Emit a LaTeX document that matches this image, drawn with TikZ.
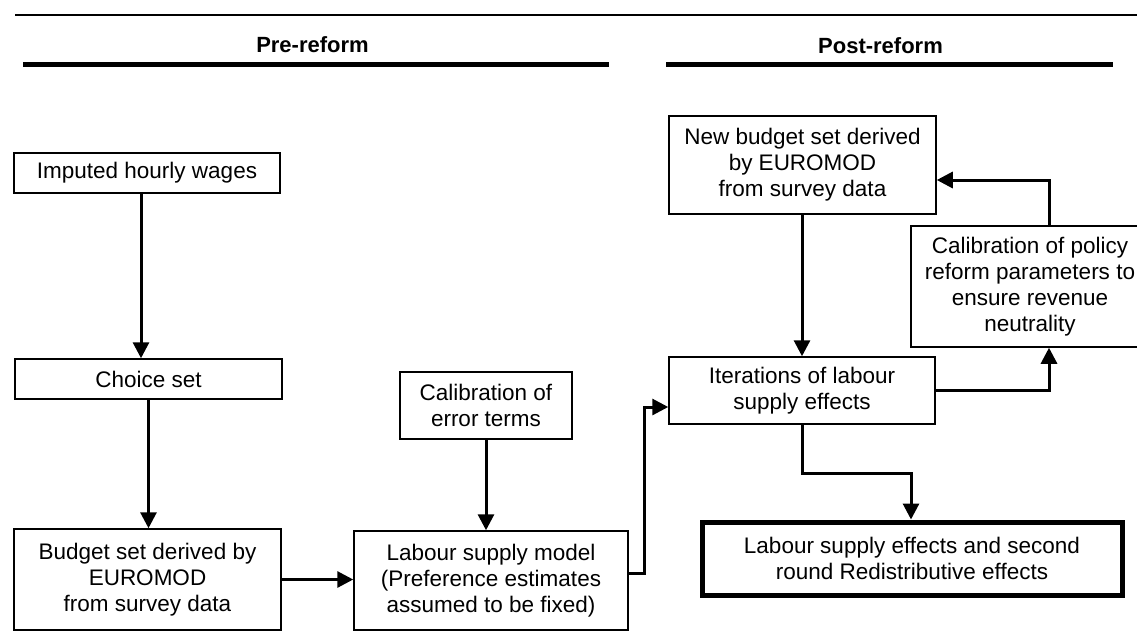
\documentclass[tikz,border=0pt]{standalone}
\usepackage{fontspec}
\setmainfont{Liberation Sans}
\usetikzlibrary{arrows.meta}
\begin{document}
\begin{tikzpicture}[x=1pt,y=-1pt,
  box/.style={draw, line width=1.5pt, align=center, inner sep=0pt,
    font=\fontsize{22.5}{26}\selectfont},
  thickbox/.style={box, line width=5pt},
  conn/.style={line width=3pt, -{Triangle[length=16pt,width=16pt]}},
  head/.style={font=\bfseries\fontsize{22}{24}\selectfont},
  rule/.style={line width=4.5pt}]
\useasboundingbox (0,0) rectangle (1137,641);
% top rule
\coordinate (t1) at (15,15);
\coordinate (t2) at (1137,15);
\draw[line width=2pt] (t1) -- (t2);
% headers
\node[head] (pre) at (312.5,45) {Pre-reform};
\node[head] (post) at (880.5,46) {Post-reform};
\coordinate (p1) at (23,64.5); \coordinate (p2) at (609,64.5);
\coordinate (q1) at (666,64.5); \coordinate (q2) at (1113,64.5);
\draw[rule] (p1) -- (p2);
\draw[rule] (q1) -- (q2);
% boxes
\node[box, minimum width=266pt, minimum height=40pt] (imp) at (147,173) {Imputed hourly wages};
\node[box, minimum width=267pt, minimum height=40pt] (ch) at (148.5,379) {Choice set};
\node[box, minimum width=267pt, minimum height=101pt] (bud) at (147.5,579.5) {Budget set derived by\\EUROMOD\\from survey data};
\node[box, minimum width=274pt, minimum height=99pt] (lab) at (491,580.5) {Labour supply model\\(Preference estimates\\assumed to be fixed)};
\node[box, minimum width=172pt, minimum height=67pt] (cal) at (486,405.5) {Calibration of\\error terms};
\node[box, minimum width=267pt, minimum height=98pt] (nb) at (802.5,165) {New budget set derived\\by EUROMOD\\from survey data};
\node[box, minimum width=238pt, minimum height=121pt] (cp) at (1030,286.5) {Calibration of policy\\reform parameters to\\ensure revenue\\neutrality};
\node[box, minimum width=266pt, minimum height=67pt] (it) at (802,390.5) {Iterations of labour\\supply effects};
\node[thickbox, minimum width=420pt, minimum height=73pt] (fin) at (912,558.5) {Labour supply effects and second\\round Redistributive effects};
% connectors
\draw[conn] ([xshift=-7.5pt]ch.north |- imp.south) -- ([xshift=-7.5pt]ch.north);
\draw[conn] (ch.south) -- (ch.south |- bud.north);
\draw[conn] (bud.east) -- (bud.east -| lab.west);
\draw[conn] (cal.south) -- (cal.south |- lab.north);
\draw[conn] ([yshift=7.5pt]lab.east) -- ++(16,0) |- ([yshift=-16.5pt]it.west);
\draw[conn] (nb.south -| it.north) -- (it.north);
\draw[conn] (it.east) -| ([xshift=19pt]cp.south);
\draw[conn] ([xshift=19pt]cp.north) |- ([yshift=-15pt]nb.east);
\draw[conn] (it.south) -- ++(0,49) -| ([xshift=-1pt]fin.north);
\end{tikzpicture}
\end{document}
